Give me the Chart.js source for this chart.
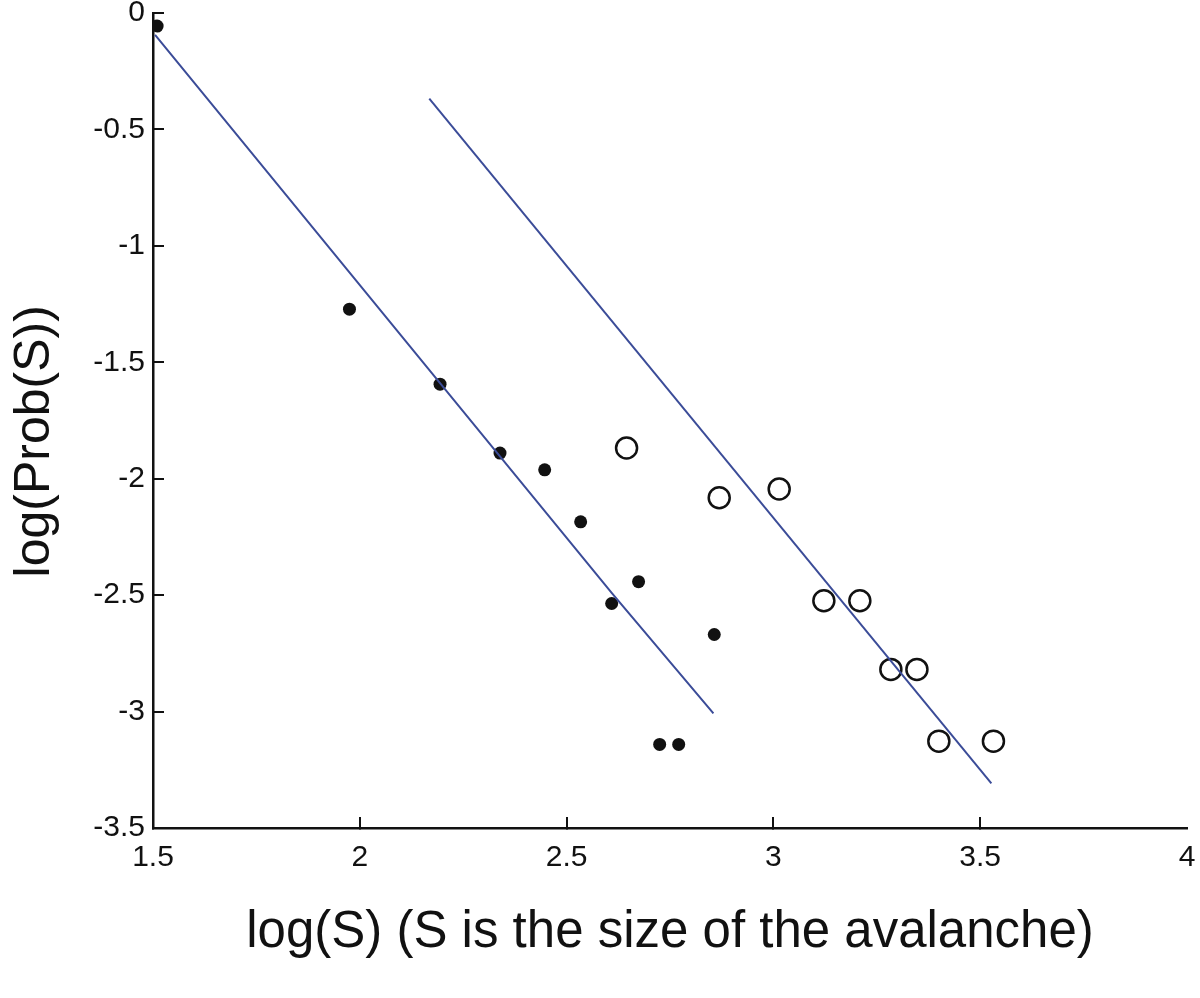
<!DOCTYPE html>
<html>
<head>
<meta charset="utf-8">
<script src="https://cdn.jsdelivr.net/npm/chart.js@4/dist/chart.umd.min.js"></script>
<style>
    body { margin: 0; background: #fff; }
    #wrap { width: 1200px; height: 998px; }
</style>
</head>
<body>
<div id="wrap"><canvas id="avalancheChart" width="1200" height="998"></canvas></div>
<script>
// filled dots
const smallLogS = [1.51, 1.975, 2.194, 2.339, 2.447, 2.534, 2.609, 2.674, 2.857, 2.725, 2.771];
const smallLogP = [-0.056, -1.272, -1.594, -1.890, -1.962, -2.185, -2.536, -2.442, -2.669, -3.141, -3.141];

// open circles
const largeLogS = [2.645, 2.869, 3.014, 3.122, 3.209, 3.284, 3.347, 3.400, 3.532];
const largeLogP = [-1.868, -2.082, -2.044, -2.524, -2.524, -2.819, -2.819, -3.127, -3.127];

// fitted lines
const fitSmallX = [1.505, 2.609, 2.855];
const fitSmallY = [-0.094, -2.49, -3.008];
const fitLargeX = [2.168, 3.527];
const fitLargeY = [-0.368, -3.308];

const xTicks = [1.5, 2, 2.5, 3, 3.5, 4];
const yTicks = [0, -0.5, -1, -1.5, -2, -2.5, -3, -3.5];

const toPoints = (xs, ys) => xs.map((x, i) => ({ x: x, y: ys[i] }));

const lineColor = "#3b4c98";
const fontFamily = "'Liberation Sans', Arial, sans-serif";

function renderChart(selector) {
    const ctx = document.querySelector(selector).getContext("2d");

    return new Chart(ctx, {
        type: "scatter",
        data: {
            datasets: [
                {
                    data: toPoints(fitSmallX, fitSmallY),
                    showLine: true,
                    borderColor: lineColor,
                    borderWidth: 2,
                    pointRadius: 0
                },
                {
                    data: toPoints(fitLargeX, fitLargeY),
                    showLine: true,
                    borderColor: lineColor,
                    borderWidth: 2,
                    pointRadius: 0
                },
                {
                    data: toPoints(smallLogS, smallLogP),
                    pointRadius: 6.5,
                    backgroundColor: "#111",
                    borderColor: "#111",
                    borderWidth: 0
                },
                {
                    data: toPoints(largeLogS, largeLogP),
                    pointRadius: 10.5,
                    backgroundColor: "rgba(0,0,0,0)",
                    borderColor: "#111",
                    borderWidth: 2.5
                }
            ]
        },
        options: {
            responsive: false,
            animation: false,
            layout: { padding: { top: 11, right: 10, left: 0, bottom: 0 } },
            plugins: {
                legend: { display: false },
                tooltip: { enabled: false }
            },
            scales: {
                x: {
                    type: "linear",
                    min: 1.5,
                    max: 4,
                    afterBuildTicks: (scale) => { scale.ticks = xTicks.map(v => ({ value: v })); },
                    afterFit: (scale) => {
                        scale.height = 170;
                        scale.paddingLeft = 0;
                        scale.paddingRight = 0;
                    },
                    border: { display: true, color: "#111", width: 2.5 },
                    grid: {
                        drawOnChartArea: false,
                        drawTicks: true,
                        tickLength: -11,
                        lineWidth: 2,
                        color: (c) => (c.tick && c.tick.value === 4) ? "rgba(0,0,0,0)" : "#111"
                    },
                    ticks: {
                        color: "#111",
                        font: { family: fontFamily, size: 30 },
                        padding: 23,
                        maxRotation: 0,
                        callback: (v) => String(v)
                    },
                    title: {
                        display: true,
                        text: "log(S) (S is the size of the avalanche)",
                        color: "#111",
                        font: { family: fontFamily, size: 51 },
                        padding: { top: 0, bottom: 34 }
                    }
                },
                y: {
                    type: "linear",
                    min: -3.5,
                    max: 0,
                    afterBuildTicks: (scale) => { scale.ticks = yTicks.map(v => ({ value: v })); },
                    afterFit: (scale) => {
                        scale.width = 153;
                        scale.paddingTop = 0;
                        scale.paddingBottom = 0;
                    },
                    border: { display: true, color: "#111", width: 2.5 },
                    grid: {
                        drawOnChartArea: false,
                        drawTicks: true,
                        tickLength: -11,
                        lineWidth: 2,
                        color: "#111"
                    },
                    ticks: {
                        color: "#111",
                        font: { family: fontFamily, size: 30 },
                        padding: 19,
                        callback: (v) => String(v)
                    },
                    title: {
                        display: true,
                        // trailing spaces push the centred label a bit lower, like the original
                        text: "log(Prob(S))   ",
                        color: "#111",
                        font: { family: fontFamily, size: 50 },
                        padding: { top: 5, bottom: 0 }
                    }
                }
            }
        }
    });
}

document.addEventListener("DOMContentLoaded", () => {
    globalThis.avalancheChart = renderChart("#avalancheChart");
});
</script>
</body>
</html>
